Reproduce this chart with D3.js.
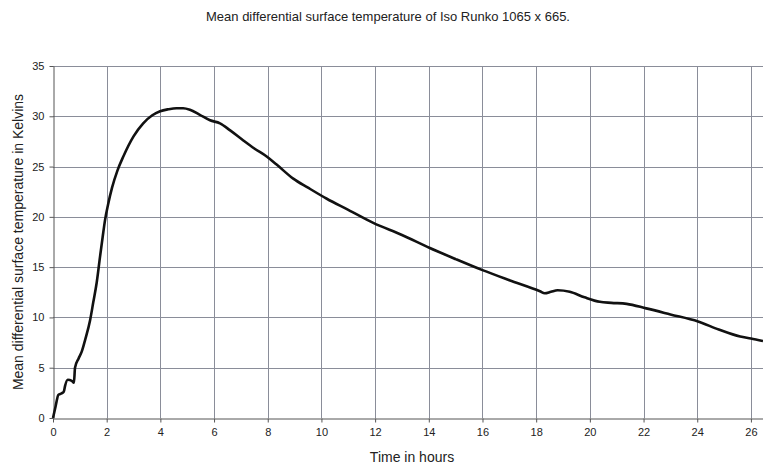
<!DOCTYPE html>
<html>
<head>
<meta charset="utf-8">
<script src="https://cdn.jsdelivr.net/npm/d3@7"></script>
<style>
  body { margin: 0; background: #fff; }
  text { font-family: "Liberation Sans", Arial, sans-serif; fill: #222; }
</style>
</head>
<body>
<svg width="763" height="466"></svg>
<script>
// Data
var hours = [0, 0.1, 0.2, 0.32, 0.4, 0.45, 0.55, 0.7, 0.78, 0.82, 0.95, 1.07, 1.2, 1.38, 1.5, 1.63, 1.75, 1.85, 1.94, 2.05, 2.2, 2.4, 2.62, 3.0, 3.36, 3.7, 3.99, 4.3, 4.6, 4.85, 5.1, 5.47, 5.85, 6.22, 6.6, 7.09, 7.5, 7.96, 8.33, 8.95, 9.5, 10.2, 11.0, 11.93, 13.0, 14.04, 15.0, 16.0, 17.0, 18.14, 18.32, 18.55, 18.8, 19.25, 19.8, 20.37, 20.8, 21.37, 22.1, 23.0, 24.03, 24.8, 25.6, 26.0, 26.45];
var temps = [0, 1.2, 2.3, 2.45, 2.6, 3.2, 3.8, 3.7, 3.5, 5.0, 5.9, 6.6, 7.8, 9.7, 11.5, 13.5, 16.0, 18.0, 19.7, 21.2, 22.9, 24.6, 26.0, 28.0, 29.3, 30.1, 30.5, 30.7, 30.8, 30.8, 30.65, 30.15, 29.6, 29.3, 28.6, 27.6, 26.8, 26.0, 25.2, 23.8, 22.9, 21.8, 20.7, 19.4, 18.2, 16.9, 15.8, 14.7, 13.7, 12.6, 12.4, 12.55, 12.7, 12.55, 12.0, 11.55, 11.45, 11.35, 10.9, 10.3, 9.6, 8.8, 8.1, 7.9, 7.65];
var xTicks = [0, 2, 4, 6, 8, 10, 12, 14, 16, 18, 20, 22, 24, 26];
var yTicks = [0, 5, 10, 15, 20, 25, 30, 35];

var svg = d3.select("svg"),
  width = +svg.attr("width"),
  height = +svg.attr("height");

var margin = { top: 66, right: 0, bottom: 48, left: 53 };

var x = d3.scaleLinear().domain([0, 26.45]).range([margin.left, width - margin.right]);
var y = d3.scaleLinear().domain([0, 35]).range([height - margin.bottom, margin.top]);

// title
svg.append("text")
  .attr("x", 388)
  .attr("y", 21)
  .attr("text-anchor", "middle")
  .style("font-size", "13px")
  .text("Mean differential surface temperature of Iso Runko 1065 x 665.");

// grid
var grid = svg.append("g").attr("stroke", "#8a8d99").attr("stroke-width", 1);
grid.selectAll("line.v")
  .data(xTicks.filter(function (d) { return d > 0; }))
  .enter().append("line")
  .attr("x1", function (d) { return Math.round(x(d)) + 0.5; })
  .attr("x2", function (d) { return Math.round(x(d)) + 0.5; })
  .attr("y1", y(35))
  .attr("y2", y(0));
grid.selectAll("line.h")
  .data(yTicks.filter(function (d) { return d > 0; }))
  .enter().append("line")
  .attr("x1", x(0))
  .attr("x2", width)
  .attr("y1", function (d) { return Math.round(y(d)) + 0.5; })
  .attr("y2", function (d) { return Math.round(y(d)) + 0.5; });

// axes
var xAxis = svg.append("g")
  .attr("transform", "translate(0," + (Math.round(y(0)) + 0.5) + ")")
  .call(d3.axisBottom(x).tickValues(xTicks).tickSize(4).tickPadding(6).tickSizeOuter(0));
var yAxis = svg.append("g")
  .attr("transform", "translate(" + (Math.round(x(0)) + 0.5) + ",0)")
  .call(d3.axisLeft(y).tickValues(yTicks).tickSize(4).tickPadding(5).tickSizeOuter(0));

[xAxis, yAxis].forEach(function (g) {
  g.select(".domain").attr("stroke", "#555");
  g.selectAll(".tick line").attr("stroke", "#555");
  g.selectAll(".tick text")
    .style("font-family", "'Liberation Sans', Arial, sans-serif")
    .style("font-size", "11px")
    .attr("fill", "#333");
});

// axis labels
svg.append("text")
  .attr("x", 412)
  .attr("y", 462)
  .attr("text-anchor", "middle")
  .style("font-size", "14px")
  .text("Time in hours");

svg.append("text")
  .attr("transform", "translate(23," + ((y(0) + y(35)) / 2) + ") rotate(-90)")
  .attr("text-anchor", "middle")
  .style("font-size", "14px")
  .text("Mean differential surface temperature in Kelvins");

// curve
var line = d3.line()
  .x(function (d, i) { return x(hours[i]); })
  .y(function (d) { return y(d); })
  .curve(d3.curveMonotoneX);

svg.append("path")
  .datum(temps)
  .attr("fill", "none")
  .attr("stroke", "#111")
  .attr("stroke-width", 2.6)
  .attr("stroke-linejoin", "round")
  .attr("d", line);
</script>
</body>
</html>
